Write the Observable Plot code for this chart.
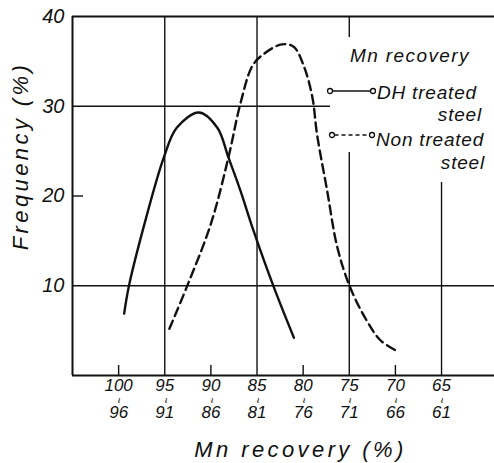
<!DOCTYPE html>
<html><head><meta charset="utf-8">
<script src="https://cdn.jsdelivr.net/npm/d3@7"></script>
<script src="https://cdn.jsdelivr.net/npm/@observablehq/plot@0.6"></script>
<style>
body{margin:0;background:#fff;}
#wrap{position:relative;width:494px;height:463px;}
g[font-size="22"] text{letter-spacing:3.4px;}
#legend{position:absolute;left:0;top:0;width:494px;height:463px;pointer-events:none;font-family:"Liberation Sans",sans-serif;font-style:italic;color:#111;font-size:19px;line-height:1;letter-spacing:0.8px;}
#legend div{position:absolute;white-space:nowrap;}
#legend svg{position:absolute;}
</style></head><body><div id="wrap"></div><script>
// tick labels (upper and lower bounds of classes)
const classUpper = [100, 95, 90, 85, 80, 75, 70, 65];
const classLower = [96, 91, 86, 81, 76, 71, 66, 61];
const yTicks = [10, 20, 30, 40];

// DH treated steel (solid)
const dhX = [99.4, 98.9, 97.3, 95.1, 93.7, 91.3, 89.3, 88.1, 86.8, 85.4, 83.2, 81.0];
const dhY = [6.9, 9.9, 16.5, 24.3, 27.6, 29.3, 27.6, 24.3, 20.6, 16.2, 9.9, 4.2];
// Non treated steel (dashed)
const ntX = [94.5, 92.6, 90.0, 88.1, 86.8, 85.5, 84.3, 82.3, 81.0, 79.9, 79.0, 78.5, 77.4, 76.3, 74.9, 73.1, 71.6, 69.6];
const ntY = [5.2, 9.9, 16.9, 24.3, 30.3, 34.5, 35.8, 36.9, 36.6, 34.4, 31.0, 26.9, 20.6, 14.3, 9.8, 6.1, 3.9, 2.6];

const legendTitle = "Mn recovery";
const seriesNames = ["DH treated", "Non treated"];
const yLabel = "Frequency (%)";
const xLabel = "Mn recovery (%)";

const dh = dhX.map((x, i) => ({x, y: dhY[i]}));
const nt = ntX.map((x, i) => ({x, y: ntY[i]}));
const lowerOf = new Map(classUpper.map((u, i) => [u, String(classLower[i])]));
const ink = "#111";

const chart = Plot.plot({
  width: 494, height: 463,
  marginLeft: 72, marginRight: 0, marginTop: 16, marginBottom: 88,
  style: {fontFamily: "Liberation Sans, sans-serif", color: ink, background: "#fff"},
  x: {domain: [105, 59.26]},
  y: {domain: [0, 40]},
  marks: [
    // grid
    Plot.ruleX([95, 85], {stroke: ink, strokeWidth: 1.4}),
    Plot.ruleX([75], {stroke: ink, strokeWidth: 1.4, insetTop: 136}),
    Plot.ruleX([75], {stroke: ink, strokeWidth: 1.4, insetBottom: 338}),
    Plot.ruleX([65], {stroke: ink, strokeWidth: 1.4, insetTop: 166}),
    Plot.ruleX([100, 90, 80, 70], {stroke: ink, strokeWidth: 1.4, insetTop: 349}),
    Plot.ruleY([10], {stroke: ink, strokeWidth: 1.4}),
    Plot.ruleY([30], {stroke: ink, strokeWidth: 1.4, insetRight: 164}),
    Plot.ruleY([20], {stroke: ink, strokeWidth: 1.4, insetRight: 411}),
    // frame
    Plot.ruleY([0, 40], {stroke: ink, strokeWidth: 2}),
    Plot.ruleX([105], {stroke: ink, strokeWidth: 2}),
    // axes
    Plot.axisY(yTicks, {tickSize: 0, tickPadding: 8, fontSize: 20, fontStyle: "italic", label: null}),
    Plot.axisX(classUpper, {tickSize: 0, tickPadding: 3, fontSize: 17, fontStyle: "italic", label: null}),
    Plot.text(classUpper, {x: d => d, text: () => "~", rotate: 90, frameAnchor: "bottom", lineAnchor: "middle", dy: 25, fontSize: 10, fill: ink}),
    Plot.text(classUpper, {x: d => d, text: d => lowerOf.get(d), frameAnchor: "bottom", lineAnchor: "top", dy: 30, fontSize: 17, fontStyle: "italic", fill: ink}),
    Plot.text([yLabel], {text: d => d, frameAnchor: "left", textAnchor: "middle", rotate: -90, dx: -52, dy: -40, fontSize: 22, fontStyle: "italic", fill: ink}),
    Plot.text([xLabel], {text: d => d, frameAnchor: "bottom", lineAnchor: "bottom", dx: 17, dy: 81, fontSize: 22, fontStyle: "italic", fill: ink}),
    // curves
    Plot.line(dh, {x: "x", y: "y", curve: "catmull-rom", stroke: ink, strokeWidth: 2.4}),
    Plot.line(nt, {x: "x", y: "y", curve: "catmull-rom", stroke: ink, strokeWidth: 2.4, strokeDasharray: "9,5"})
  ]
});
const wrap = document.getElementById("wrap");
wrap.appendChild(chart);

const lg = document.createElement("div");
lg.id = "legend";
const sw = (y, x0, x1, dash) => `<svg style="left:${x0 - 4}px;top:${y - 6}px" width="${x1 - x0 + 8}" height="12"><line x1="6.5" y1="6" x2="${x1 - x0 + 1.5}" y2="6" stroke="${ink}" stroke-width="1.6" ${dash ? 'stroke-dasharray="4,3"' : ''}/><circle cx="4" cy="6" r="2.5" fill="#fff" stroke="${ink}" stroke-width="1.3"/><circle cx="${x1 - x0 + 4}" cy="6" r="2.5" fill="#fff" stroke="${ink}" stroke-width="1.3"/></svg>`;
lg.innerHTML =
  `<div style="left:350px;top:46px;letter-spacing:1.4px">${legendTitle}</div>` +
  sw(91, 330, 373, false) +
  `<div style="left:377px;top:83px">${seriesNames[0]}</div>` +
  `<div style="right:12px;top:105px">steel</div>` +
  sw(135, 332, 372, true) +
  `<div style="left:376px;top:130px">${seriesNames[1]}</div>` +
  `<div style="right:9px;top:153px">steel</div>`;
wrap.appendChild(lg);
</script></body></html>
